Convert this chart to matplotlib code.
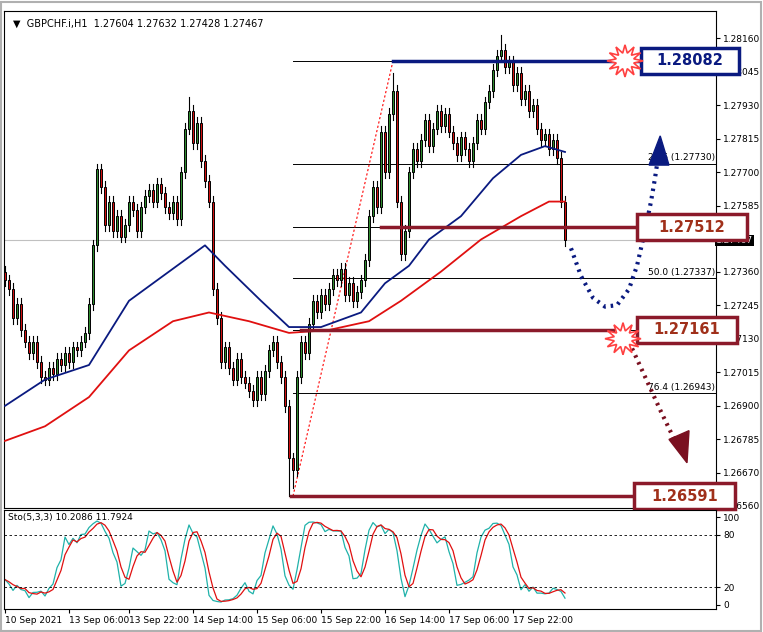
import numpy as np
import pandas as pd
import matplotlib.pyplot as plt
from matplotlib.patches import Rectangle, Polygon

# hourly closes, 10 Sep 2021 .. 17 Sep 2021
closes = [
    1.2733, 1.2730, 1.2720, 1.2725, 1.2716, 1.2712, 1.2708, 1.2712, 1.2705, 1.2700,
    1.2699, 1.2703, 1.2701, 1.2706, 1.2704, 1.2708, 1.2705, 1.2710, 1.2709, 1.2712,
    1.2715, 1.2725, 1.2745, 1.2771, 1.2765, 1.2752, 1.2760, 1.2750, 1.2755, 1.2748,
    1.2752, 1.2760, 1.2757, 1.2750, 1.2758, 1.2762, 1.2764, 1.2760, 1.2766, 1.2763,
    1.2758, 1.2756, 1.2760, 1.2754, 1.2770, 1.2785, 1.2791, 1.2780, 1.2787, 1.2774,
    1.2767, 1.2760, 1.2730, 1.2720, 1.2705, 1.2710, 1.2703, 1.2699, 1.2706, 1.2700,
    1.2698, 1.2695, 1.2692, 1.2700, 1.2694, 1.2702, 1.2709, 1.2712, 1.2705, 1.2700,
    1.2690, 1.2672, 1.2668, 1.2700, 1.2712, 1.2708, 1.2718, 1.2726, 1.2722, 1.2728,
    1.2725, 1.2730, 1.2735, 1.2733, 1.2737, 1.2728, 1.2732, 1.2726, 1.2729, 1.2733,
    1.2740, 1.2755, 1.2765, 1.2758, 1.2784, 1.2770, 1.2790, 1.2798, 1.2760, 1.2742,
    1.2750, 1.2770, 1.2778, 1.2774, 1.2781, 1.2788, 1.2779, 1.2785, 1.2791, 1.2786,
    1.2790, 1.2784, 1.2780, 1.2776, 1.2782, 1.2778, 1.2774, 1.2780, 1.2788, 1.2785,
    1.2794, 1.2798, 1.2805, 1.2810, 1.2812, 1.2806, 1.2808, 1.2800, 1.2804, 1.2795,
    1.2798, 1.2791, 1.2793, 1.2785, 1.2781, 1.2783, 1.2778, 1.2781, 1.2775, 1.2760,
    1.27467,
]
first_open = 1.27360
extreme_lows = {71: 1.26591, 72: 1.26620}
extreme_highs = {124: 1.28170, 97: 1.28040, 46: 1.27960}

# moving averages (bar index, price)
ma_blue_x = [0, 10, 21, 31, 41, 50, 55, 64, 71, 79, 89, 95, 101, 106, 114, 122, 129, 135, 140]
ma_blue_y = [1.2690, 1.2699, 1.2704, 1.2726, 1.2736, 1.2745, 1.2738, 1.2726, 1.2717,
             1.2717, 1.2722, 1.2732, 1.2738, 1.2747, 1.2755, 1.2768, 1.2776, 1.2779, 1.2777]
ma_red_x = [0, 10, 21, 31, 42, 51, 61, 71, 81, 91, 99, 109, 119, 129, 136, 140]
ma_red_y = [1.2678, 1.2683, 1.2693, 1.2709, 1.2719, 1.2722, 1.2719, 1.2715, 1.2716,
            1.2719, 1.2726, 1.2736, 1.2747, 1.2755, 1.2760, 1.2760]

fib_levels = [0.0, 23.6, 38.2, 50.0, 61.8, 76.4, 100.0]
fib_prices = [1.28082, 1.27730, 1.27512, 1.27337, 1.27161, 1.26943, 1.26591]
fib_shown = [23.6, 50.0, 76.4]

ytick_vals = [1.28160, 1.28045, 1.27930, 1.27815, 1.27700, 1.27585, 1.27360,
              1.27245, 1.27130, 1.27015, 1.26900, 1.26785, 1.26670, 1.26560]
xtick_pos = [0, 16, 31, 47, 63, 79, 95, 111, 127]
xtick_labels = ["10 Sep 2021", "13 Sep 06:00", "13 Sep 22:00", "14 Sep 14:00",
                "15 Sep 06:00", "15 Sep 22:00", "16 Sep 14:00", "17 Sep 06:00",
                "17 Sep 22:00"]

df = pd.DataFrame({"close": closes})
df["open"] = [first_open] + closes[:-1]
df["high"] = df[["open", "close"]].max(axis=1) + 0.0002
df["low"] = df[["open", "close"]].min(axis=1) - 0.0002
for i, v in extreme_lows.items():
    df.loc[i, "low"] = v
for i, v in extreme_highs.items():
    df.loc[i, "high"] = v

# stochastic 5,3,3
ll = df["low"].rolling(5, min_periods=1).min()
hh = df["high"].rolling(5, min_periods=1).max()
num = (df["close"] - ll).rolling(3, min_periods=1).sum()
den = (hh - ll).rolling(3, min_periods=1).sum()
k = 100 * num / den
d = k.rolling(3, min_periods=1).mean()

W, H = 763, 632
fig = plt.figure(figsize=(W / 100, H / 100), dpi=100)
fig.patch.set_facecolor("white")
fig.add_artist(Rectangle((1 / W, 1 / H), 760 / W, 629 / H, transform=fig.transFigure,
                         fill=False, edgecolor="#b0b0b0", lw=1.5))

x0, x1 = -0.25, 177.75
ax = fig.add_axes([4 / W, (H - 508) / H, 712 / W, 497 / H])
ax2 = fig.add_axes([4 / W, (H - 609) / H, 712 / W, 99 / H])
for a in (ax, ax2):
    a.set_xlim(x0, x1)
    a.yaxis.tick_right()
    a.tick_params(axis="y", labelsize=6.5, length=3, pad=2, direction="out")
    for s in a.spines.values():
        s.set_linewidth(0.8)
ax.set_ylim(1.26550, 1.28253)
ax.set_yticks(ytick_vals)
ax.set_yticklabels([f"{v:.5f}" for v in ytick_vals])
ax.set_xticks([])

# candles
for i, r in df.iterrows():
    ax.plot([i, i], [r["low"], r["high"]], color="black", lw=0.8, zorder=3)
    up = r["close"] >= r["open"]
    b = min(r["open"], r["close"])
    h = max(abs(r["close"] - r["open"]), 0.00002)
    ax.add_patch(Rectangle((i - 0.3, b), 0.6, h, facecolor="#2e8b2e" if up else "#d01010",
                           edgecolor="black", lw=0.7, zorder=4))

ax.plot(ma_blue_x, ma_blue_y, color="#0a1a80", lw=1.3, zorder=5)
ax.plot(ma_red_x, ma_red_y, color="#e01010", lw=1.3, zorder=5)

# fibonacci
fib_x = 72
for lvl, p in zip(fib_levels, fib_prices):
    ax.plot([fib_x, x1], [p, p], color="black", lw=0.7, zorder=2)
    if lvl in fib_shown:
        ax.text(x1 - 0.3, p + 0.00004, f"{lvl:.1f} ({p:.5f})", ha="right", va="bottom",
                fontsize=6.5, zorder=6)
ax.plot([fib_x, 97], [fib_prices[-1], fib_prices[0]], color="red", lw=0.8, ls=(0, (2, 2)), zorder=2)

# current price line
ax.axhline(1.27467, color="#c0c0c0", lw=0.8, zorder=1)
ax.text(1.0, 1.27467, "1.27467", transform=ax.get_yaxis_transform(), ha="left",
        va="center", fontsize=6.5, color="white",
        bbox=dict(facecolor="black", edgecolor="none", pad=1))

# key levels with boxes
blue = "#0a1a80"
maroon = "#8b1a2a"
levels = [(1.28082, 97, 159.5, blue, blue, 159, 183.5, 1.28082),
          (1.27512, 94, 158.5, maroon, "#a0301a", 158, 185.5, 1.27512),
          (1.27161, 74, 152, maroon, "#a0301a", 158, 183.0, 1.27161),
          (1.26591, 71.5, 157.5, maroon, "#a0301a", 157.2, 182.5, 1.26591)]
for p, xa, xb, col, tcol, bx0, bx1, val in levels:
    ax.plot([xa, xb], [p, p], color=col, lw=2.5, zorder=6)
    ax.add_patch(Rectangle((bx0, p - 0.00045), bx1 - bx0, 0.0009, facecolor="white",
                           edgecolor=col, lw=2.5, zorder=8, clip_on=False))
    ax.text((bx0 + bx1) / 2, p, f"{val:.5f}", ha="center", va="center", fontsize=10.5,
            fontweight="bold", color=tcol, zorder=9, clip_on=False)

# starbursts
for cx, cy in [(155, 1.28082), (154.5, 1.27130)]:
    ang = np.linspace(0, 2 * np.pi, 25)[:-1]
    rad = np.where(np.arange(24) % 2 == 0, 1.0, 0.5)
    pts = np.c_[cx + 4.5 * rad * np.cos(ang), cy + 0.00055 * rad * np.sin(ang)]
    ax.add_patch(Polygon(pts, closed=True, facecolor="white", edgecolor="#ff4040", lw=1.2,
                         zorder=9, clip_on=False))

# projected paths
bx = [141.5, 144, 147, 150, 153, 156, 158, 160, 161.5, 162.5, 163.2]
by = [1.2744, 1.27345, 1.2727, 1.2724, 1.27245, 1.2730, 1.2738, 1.2750, 1.2760, 1.2768, 1.27745]
ax.plot(bx, by, color=blue, lw=3, ls=(0, (0.6, 1.2)), zorder=7)
ax.add_patch(Polygon([[161.0, 1.27725], [166.0, 1.27725], [163.8, 1.27825]], closed=True,
                     facecolor=blue, edgecolor=blue, zorder=8))
mx = [156, 160, 164, 167.5]
my = [1.27120, 1.27000, 1.2688, 1.2678]
ax.plot(mx, my, color="#7a1020", lw=3, ls=(0, (0.6, 1.2)), zorder=7)
ax.add_patch(Polygon([[166.0, 1.26785], [171.0, 1.26815], [170.5, 1.26705]], closed=True,
                     facecolor="#7a1020", edgecolor="#7a1020", zorder=8))

ax.text(0.012, 0.985, "\u25bc  GBPCHF.i,H1  1.27604 1.27632 1.27428 1.27467",
        transform=ax.transAxes, fontsize=7, va="top", ha="left")

# stochastic pane
idx = np.arange(len(df))
ax2.plot(idx, k, color="#20b2aa", lw=0.9)
ax2.plot(idx, d, color="#e01010", lw=0.9)
ax2.set_ylim(-5, 108)
ax2.set_yticks([0, 20, 80, 100])
ax2.set_yticklabels(["0", "20", "80", "100"])
ax2.axhline(80, color="black", lw=0.6, ls=(0, (3, 3)))
ax2.axhline(20, color="black", lw=0.6, ls=(0, (3, 3)))
ax2.text(0.005, 0.97, "Sto(5,3,3) 10.2086 11.7924", transform=ax2.transAxes,
         fontsize=6.5, va="top")
ax2.set_xticks(xtick_pos)
ax2.set_xticklabels(xtick_labels, fontsize=6.5, ha="left")
ax2.tick_params(axis="x", length=3, pad=2)

fig.savefig("out.png", dpi=100)
